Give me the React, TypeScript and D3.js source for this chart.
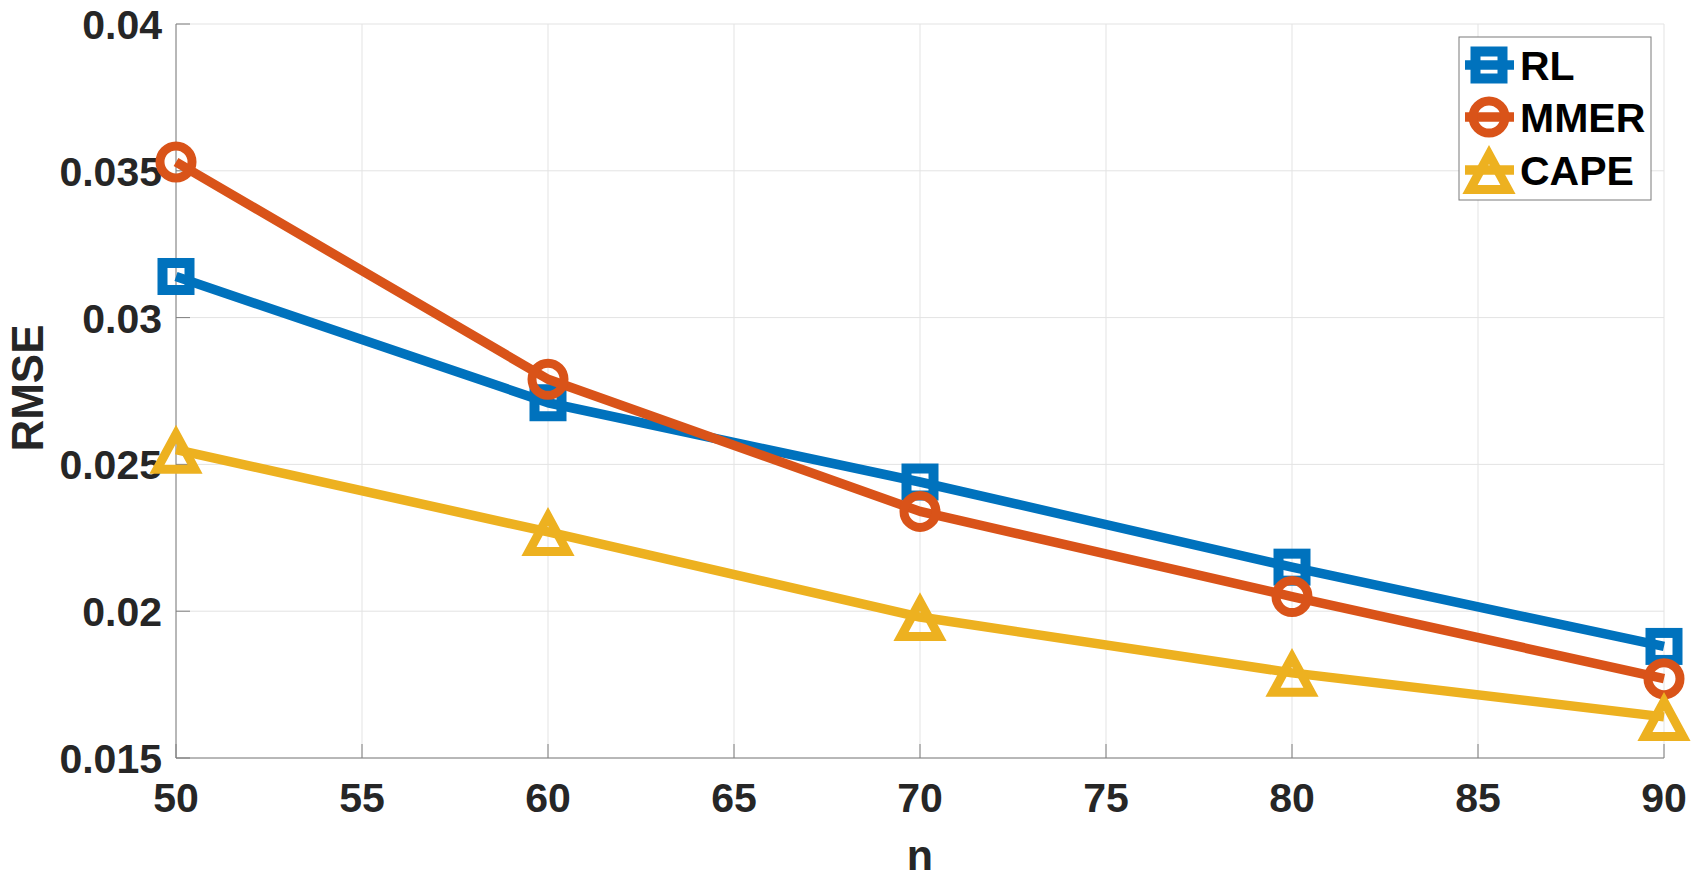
import React from "react";
import * as d3 from "d3";

const nValues = [50, 60, 70, 80, 90];
const rlValues = [0.0314, 0.0271, 0.0244, 0.0215, 0.0188];
const mmerValues = [0.0353, 0.0279, 0.0234, 0.0205, 0.0177];
const capeValues = [0.0255, 0.0227, 0.0198, 0.0179, 0.0164];
const xTicks = [50, 55, 60, 65, 70, 75, 80, 85, 90];
const yTicks = [0.015, 0.02, 0.025, 0.03, 0.035, 0.04];
const yTickLabels = ["0.015", "0.02", "0.025", "0.03", "0.035", "0.04"];
const seriesNames = ["RL", "MMER", "CAPE"];
const seriesColors = ["#0072BD", "#D95319", "#EDB120"];
const seriesMarkers = ["square", "circle", "triangle"];

const W = 1695;
const H = 881;
const L = 176, R = 1664, T = 24, B = 758;
const FONT = "'Liberation Sans', Arial, Helvetica, sans-serif";
const LW = 9.5;

function Marker({ kind, x, y, color }: { kind: string; x: number; y: number; color: string }) {
  if (kind === "square") {
    return <rect x={x - 13.5} y={y - 13.5} width={27} height={27} fill="none" stroke={color} strokeWidth={10} />;
  }
  if (kind === "circle") {
    return <circle cx={x} cy={y} r={16} fill="none" stroke={color} strokeWidth={9} />;
  }
  const p = `M${x},${y - 15.5}L${x + 19},${y + 19.5}L${x - 19},${y + 19.5}Z`;
  return <path d={p} fill="none" stroke={color} strokeWidth={9} strokeLinejoin="miter" />;
}

export default function App() {
  const x = d3.scaleLinear().domain([50, 90]).range([L, R]);
  const y = d3.scaleLinear().domain([0.015, 0.04]).range([B, T]);
  const allSeries = [rlValues, mmerValues, capeValues];
  const line = d3
    .line<number>()
    .x((_, i) => x(nValues[i]))
    .y((d) => y(d));

  const legendTop = 37;
  const legendRowY = [65, 117, 170];

  return (
    <svg
      width={W}
      height={H}
      style={{ position: "absolute", left: 0, top: 0, display: "block", background: "#fff" }}
      fontFamily={FONT}
    >
      <rect x={0} y={0} width={W} height={H} fill="#fff" />
      {xTicks.map((t) => (
        <line key={"gx" + t} x1={x(t)} x2={x(t)} y1={T} y2={B} stroke="#e3e3e3" strokeWidth={1} />
      ))}
      {yTicks.map((t) => (
        <line key={"gy" + t} x1={L} x2={R} y1={y(t)} y2={y(t)} stroke="#e3e3e3" strokeWidth={1} />
      ))}
      <line x1={L} x2={L} y1={T} y2={B} stroke="#7f7f7f" strokeWidth={1} />
      <line x1={L} x2={R} y1={B} y2={B} stroke="#7f7f7f" strokeWidth={1} />
      {xTicks.map((t) => (
        <line key={"tx" + t} x1={x(t)} x2={x(t)} y1={B} y2={B - 14} stroke="#7f7f7f" strokeWidth={1} />
      ))}
      {yTicks.map((t) => (
        <line key={"ty" + t} x1={L} x2={L + 14} y1={y(t)} y2={y(t)} stroke="#7f7f7f" strokeWidth={1} />
      ))}
      {xTicks.map((t) => (
        <text key={"lx" + t} x={x(t)} y={812} textAnchor="middle" fontSize={41} fontWeight="bold" fill="#262626">
          {t}
        </text>
      ))}
      {yTicks.map((t, i) => (
        <text key={"ly" + t} x={162} y={y(t) + 15} textAnchor="end" fontSize={41} fontWeight="bold" fill="#262626">
          {yTickLabels[i]}
        </text>
      ))}
      <text x={(L + R) / 2} y={870} textAnchor="middle" fontSize={43} fontWeight="bold" fill="#262626">
        n
      </text>
      <text
        transform={`translate(43,388) rotate(-90)`}
        textAnchor="middle"
        fontSize={44}
        fontWeight="bold"
        fill="#262626"
      >
        RMSE
      </text>
      {allSeries.map((vals, si) => (
        <g key={"s" + si}>
          <path d={line(vals) || ""} fill="none" stroke={seriesColors[si]} strokeWidth={LW} strokeLinejoin="round" />
          {vals.map((v, i) => (
            <Marker key={i} kind={seriesMarkers[si]} x={x(nValues[i])} y={y(v)} color={seriesColors[si]} />
          ))}
        </g>
      ))}
      <rect x={1459} y={legendTop} width={192} height={163} fill="#fff" stroke="#7a7a7a" strokeWidth={1} />
      {seriesNames.map((name, i) => (
        <g key={"lg" + i}>
          <line x1={1465} x2={1514} y1={legendRowY[i]} y2={legendRowY[i]} stroke={seriesColors[i]} strokeWidth={LW} />
          <Marker kind={seriesMarkers[i]} x={1489} y={legendRowY[i]} color={seriesColors[i]} />
          <text x={1520} y={legendRowY[i] + 15} fontSize={41} fontWeight="bold" fill="#000">
            {name}
          </text>
        </g>
      ))}
    </svg>
  );
}
